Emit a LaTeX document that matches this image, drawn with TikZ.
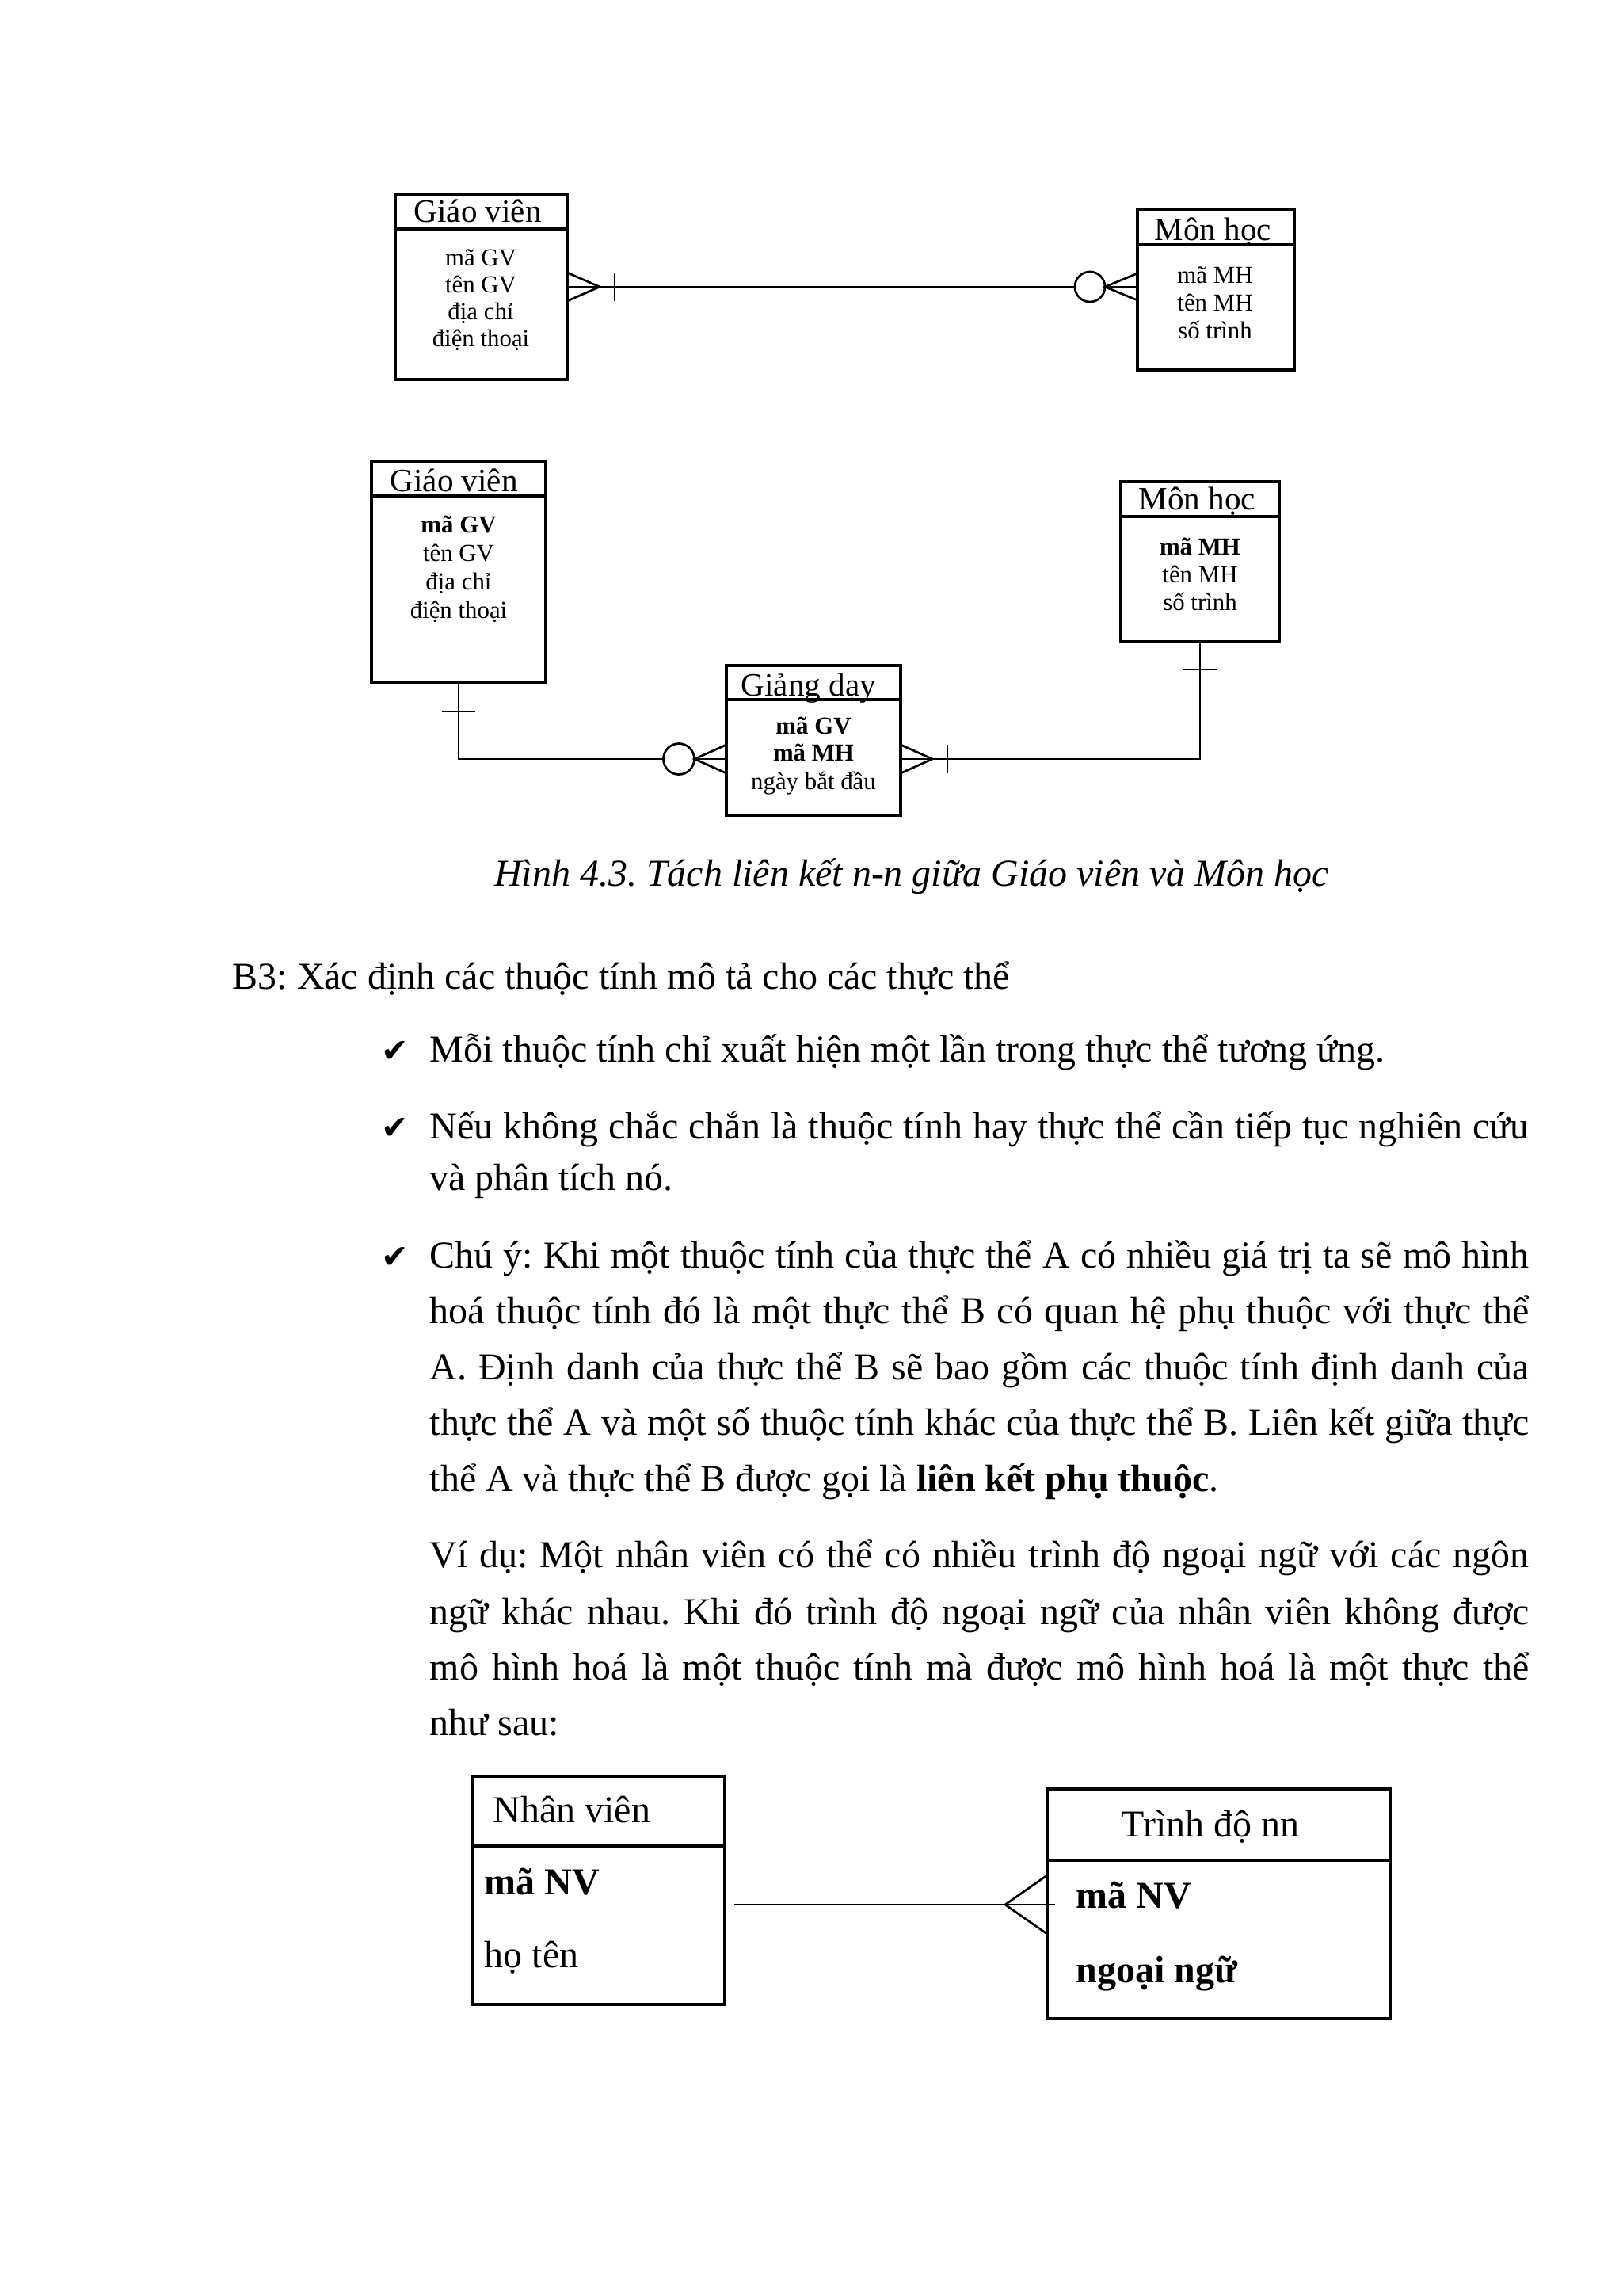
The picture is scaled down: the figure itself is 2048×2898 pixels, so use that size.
\documentclass[tikz,border=0pt]{standalone}
\usepackage{fontspec}
\setmainfont{Liberation Serif}
\newfontfamily\symfont{DejaVu Sans}
\usetikzlibrary{positioning,calc}
\frenchspacing
\newlength{\pxu}\setlength{\pxu}{0.10254mm}
\newcommand{\jl}[1]{\makebox[1388\pxu][s]{#1}}

\tikzset{
  hdr/.style={draw, line width=0.9pt, inner sep=0pt, outer sep=0pt, anchor=north west},
  ent/.style={draw, line width=0.9pt, inner sep=0pt, outer sep=0pt, anchor=north},
  ttl/.style={anchor=base west, inner sep=0pt, font=\fontsize{12}{14}\selectfont},
  attr/.style={anchor=base, inner sep=0pt, font=\fontsize{9}{10}\selectfont},
  big/.style={anchor=base west, inner sep=0pt, font=\fontsize{14}{17}\selectfont},
  chk/.style={anchor=base west, inner sep=0pt, font=\symfont\fontsize{12}{14}\selectfont},
  lnk/.style={line width=0.8pt}
}

% entity box: name, x, y (top), width, header height, body height
\newcommand{\entbox}[6]{%
  \node[hdr, minimum width=#4*\pxu, minimum height=#5*\pxu] (#1h) at (#2,#3) {};
  \node[ent, minimum width=#4*\pxu, minimum height=#6*\pxu] (#1) at (#1h.south) {};
}

\begin{document}
\begin{tikzpicture}[x=0.10254mm, y=-0.10254mm]
  \fill[white] (0,0) rectangle (2048,2898);
  \useasboundingbox (0,0) rectangle (2048,2898);

  % --- Giao vien -- Mon hoc (n-n)
  \entbox{gvA}{499}{245}{217}{44}{190}
  \entbox{mhA}{1436}{264}{198}{45}{158}
  \node[ttl] (gvAt) at (522,280) {Giáo viên};
  \node[ttl] (mhAt) at (1457,303) {Môn học};
  \foreach \lbl/\yy in {mã GV/335, tên GV/369, địa chỉ/403, điện thoại/437}
    \node[attr] (gvA\yy) at (607,\yy) {\lbl};
  \foreach \lbl/\yy in {mã MH/357, tên MH/392, số trình/427}
    \node[attr] (mhA\yy) at (1534,\yy) {\lbl};
  \coordinate (yA) at (0,362);
  \coordinate (pA) at (gvA.east |- yA);
  \coordinate (qA) at (mhA.west |- yA);
  \draw[lnk] (pA) -- (qA);
  \draw[lnk] ($(pA)+(0,-18)$) -- ($(pA)+(41,0)$) -- ($(pA)+(0,18)$);
  \draw[lnk] ($(pA)+(60,-18)$) -- ($(pA)+(60,18)$);
  \draw[lnk, fill=white] ($(qA)+(-60,0)$) circle[radius=1.95mm];
  \draw[lnk] ($(qA)+(0,-17)$) -- ($(qA)+(-41,0)$) -- ($(qA)+(0,17)$);

  % --- tach thanh Giang day
  \entbox{gvB}{469}{582}{220}{44}{235}
  \entbox{gdB}{917}{840}{220}{43}{146}
  \entbox{mhB}{1415}{608}{200}{44}{158}
  \node[ttl] (gvBt) at (492,620) {Giáo viên};
  \node[ttl] (gdBt) at (935,878) {Giảng dạy};
  \node[ttl] (mhBt) at (1437,643) {Môn học};
  \foreach \lbl/\yy in {\textbf{mã GV}/672, tên GV/708, địa chỉ/744, điện thoại/780}
    \node[attr] (gvB\yy) at (579,\yy) {\lbl};
  \foreach \lbl/\yy in {\textbf{mã GV}/926, \textbf{mã MH}/960, ngày bắt đầu/996}
    \node[attr] (gdB\yy) at (1027,\yy) {\lbl};
  \foreach \lbl/\yy in {\textbf{mã MH}/700, tên MH/735, số trình/770}
    \node[attr] (mhB\yy) at (1515,\yy) {\lbl};
  \coordinate (yB) at (0,958);
  \coordinate (pB) at (gdB.west |- yB);
  \coordinate (qB) at (gdB.east |- yB);
  \draw[lnk] (gvB.south) |- (pB);
  \draw[lnk] (qB) -| (mhB.south);
  \draw[lnk] ($(gvB.south)+(-21,37)$) -- ($(gvB.south)+(21,37)$);
  \draw[lnk, fill=white] ($(pB)+(-60,0)$) circle[radius=2mm];
  \draw[lnk] ($(pB)+(0,-18)$) -- ($(pB)+(-40,0)$) -- ($(pB)+(0,18)$);
  \draw[lnk] ($(qB)+(0,-18)$) -- ($(qB)+(40,0)$) -- ($(qB)+(0,18)$);
  \draw[lnk] ($(qB)+(59,-18)$) -- ($(qB)+(59,18)$);
  \draw[lnk] ($(mhB.south)+(-21,35)$) -- ($(mhB.south)+(21,35)$);

  \node[anchor=base, inner sep=0pt, font=\fontsize{14}{17}\selectfont\itshape] (cap)
    at (1151,1118) {Hình 4.3. Tách liên kết n-n giữa Giáo viên và Môn học};

  % --- text
  \node[big] (b3) at (293,1248) {B3: Xác định các thuộc tính mô tả cho các thực thể};
  \foreach \yy in {1340,1437,1600}
    \node[chk] (ck\yy) at (481,\yy) {✔};
  \node[big] (t1) at (542,1340) {Mỗi thuộc tính chỉ xuất hiện một lần trong thực thể tương ứng.};
  \node[big] (t2) at (542,1437) {\jl{Nếu không chắc chắn là thuộc tính hay thực thể cần tiếp tục nghiên cứu}};
  \node[big] (t3) at (542,1502) {và phân tích nó.};
  \node[big] (t4) at (542,1600) {\jl{Chú ý: Khi một thuộc tính của thực thể A có nhiều giá trị ta sẽ mô hình}};
  \node[big] (t5) at (542,1670) {\jl{hoá thuộc tính đó là một thực thể B có quan hệ phụ thuộc với thực thể}};
  \node[big] (t6) at (542,1741) {\jl{A. Định danh của thực thể B sẽ bao gồm các thuộc tính định danh của}};
  \node[big] (t7) at (542,1811) {\jl{thực thể A và một số thuộc tính khác của thực thể B. Liên kết giữa thực}};
  \node[big] (t8) at (542,1882) {thể A và thực thể B được gọi là \textbf{liên kết phụ thuộc}.};
  \node[big] (t9) at (542,1978) {\jl{Ví dụ: Một nhân viên có thể có nhiều trình độ ngoại ngữ với các ngôn}};
  \node[big] (t10) at (542,2050) {\jl{ngữ khác nhau. Khi đó trình độ ngoại ngữ của nhân viên không được}};
  \node[big] (t11) at (542,2120) {\jl{mô hình hoá là một thuộc tính mà được mô hình hoá là một thực thể}};
  \node[big] (t12) at (542,2190) {như sau:};

  % --- Nhan vien -- Trinh do nn
  \entbox{nvC}{597}{2242}{318}{88}{200}
  \entbox{tdC}{1322}{2258}{433}{90}{200}
  \node[big] (nvCt) at (622,2300) {Nhân viên};
  \node[big] (nvC1) at (611,2391) {\textbf{mã NV}};
  \node[big] (nvC2) at (611,2483) {họ tên};
  \node[big] (tdCt) at (1415,2318) {Trình độ nn};
  \node[big] (tdC1) at (1358,2408) {\textbf{mã NV}};
  \node[big] (tdC2) at (1358,2502) {\textbf{ngoại ngữ}};
  \coordinate (yC) at (0,2404);
  \coordinate (qC) at (tdC.west |- yC);
  \draw[lnk] ($(nvC.east |- yC)+(12,0)$) -- ($(qC)+(10,0)$);
  \draw[lnk] ($(qC)+(0,-37)$) -- ($(qC)+(-53,0)$) -- ($(qC)+(0,37)$);
\end{tikzpicture}
\end{document}
